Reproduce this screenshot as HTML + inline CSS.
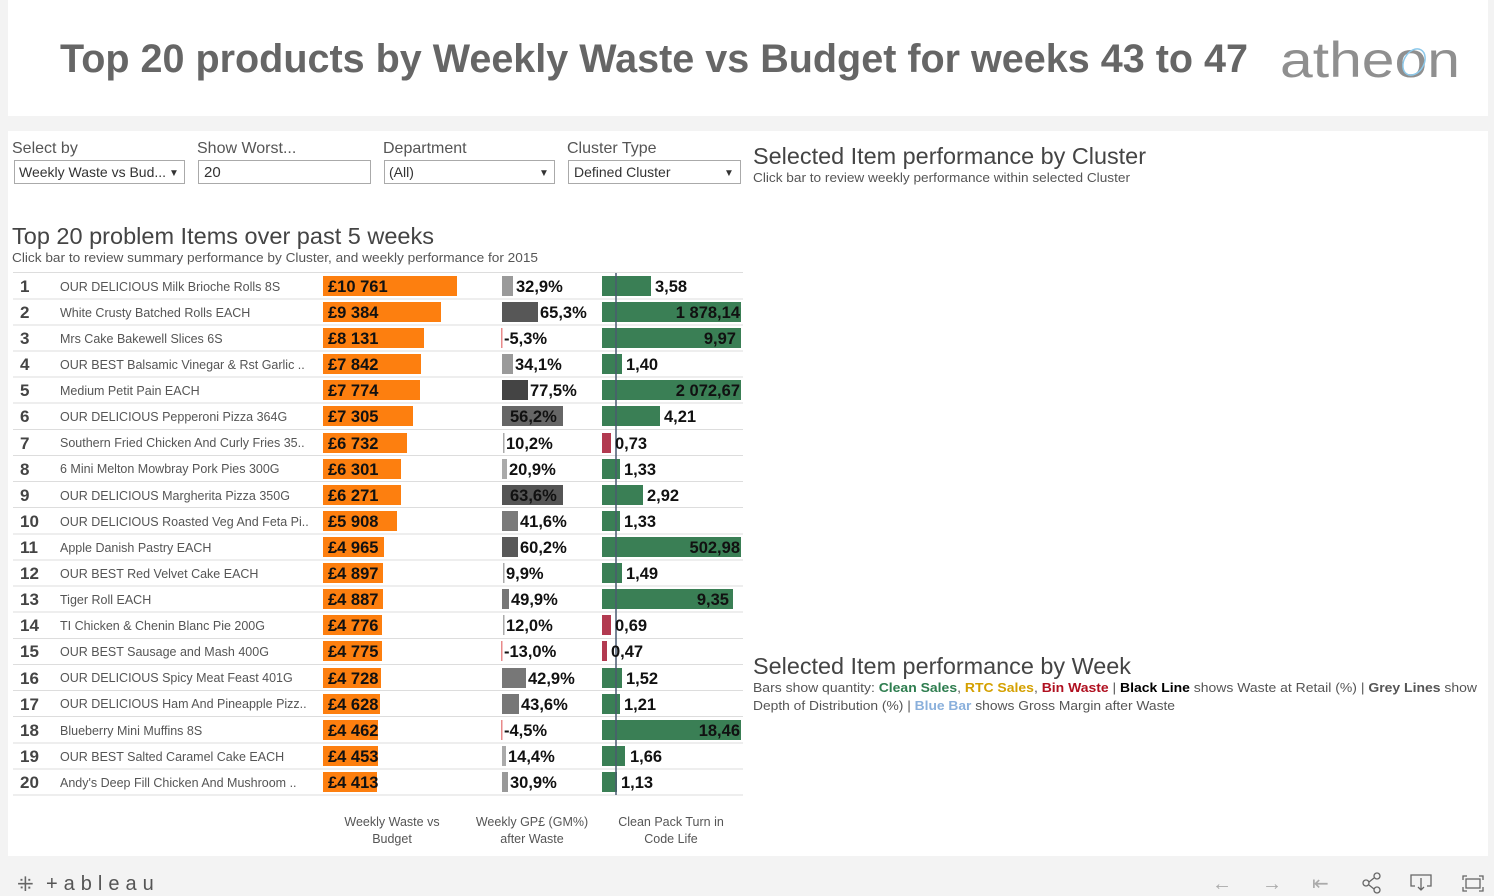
<!DOCTYPE html>
<html><head><meta charset="utf-8"><style>
html,body{margin:0;padding:0;background:#f3f3f3;}
svg{display:block;font-family:"Liberation Sans",sans-serif;}
</style></head><body>
<svg width="1494" height="896" viewBox="0 0 1494 896" xmlns="http://www.w3.org/2000/svg">
<rect x="0" y="0" width="1494" height="896" fill="#f3f3f3"/>
<rect x="8" y="0" width="1480" height="116" fill="#fff"/>
<text x="60" y="72" font-size="40" font-weight="bold" fill="#666" textLength="1188" lengthAdjust="spacingAndGlyphs">Top 20 products by Weekly Waste vs Budget for weeks 43 to 47</text>
<text x="1280" y="77" font-size="50" fill="#8f8f8f" textLength="180" lengthAdjust="spacingAndGlyphs">atheon</text>
<ellipse cx="1414" cy="62" rx="10" ry="14" fill="none" stroke="#8cc8ea" stroke-width="1.5" transform="rotate(30 1414 62)"/>
<rect x="8" y="131" width="1480" height="725" fill="#fff"/>
<g font-size="16" fill="#555">
<text x="12" y="153">Select by</text>
<text x="197" y="153">Show Worst...</text>
<text x="383" y="153">Department</text>
<text x="567" y="153">Cluster Type</text>
</g>
<g fill="#fff" stroke="#aaa">
<rect x="14.5" y="160.5" width="170" height="23"/>
<rect x="198.5" y="160.5" width="172" height="23"/>
<rect x="384.5" y="160.5" width="170" height="23"/>
<rect x="568.5" y="160.5" width="172" height="23"/>
</g>
<g font-size="14" fill="#333">
<text x="19" y="177">Weekly Waste vs Bud...</text>
<text x="204" y="177" font-size="15">20</text>
<text x="389" y="177">(All)</text>
<text x="574" y="177">Defined Cluster</text>
</g>
<g fill="#333" font-size="10">
<text x="169" y="176">▼</text><text x="539" y="176">▼</text><text x="724" y="176">▼</text>
</g>
<text x="753" y="164" font-size="23" fill="#444" textLength="393" lengthAdjust="spacingAndGlyphs">Selected Item performance by Cluster</text>
<text x="753" y="182" font-size="13" fill="#555" textLength="377" lengthAdjust="spacingAndGlyphs">Click bar to review weekly performance within selected Cluster</text>
<text x="12" y="244" font-size="23" fill="#444" textLength="422" lengthAdjust="spacingAndGlyphs">Top 20 problem Items over past 5 weeks</text>
<text x="12" y="262" font-size="13" fill="#555" textLength="526" lengthAdjust="spacingAndGlyphs">Click bar to review summary performance by Cluster, and weekly performance for 2015</text>
<text x="753" y="674" font-size="23" fill="#444" textLength="378" lengthAdjust="spacingAndGlyphs">Selected Item performance by Week</text>
<text x="753" y="692" font-size="13" fill="#555" textLength="724" lengthAdjust="spacingAndGlyphs">Bars show quantity: <tspan fill="#2e7d4f" font-weight="bold">Clean Sales</tspan>, <tspan fill="#d4a000" font-weight="bold">RTC Sales</tspan>, <tspan fill="#b01020" font-weight="bold">Bin Waste</tspan>    |    <tspan fill="#000" font-weight="bold">Black Line</tspan> shows Waste at Retail (%)    |    <tspan fill="#555" font-weight="bold">Grey Lines</tspan> show</text>
<text x="753" y="710" font-size="13" fill="#555" textLength="422" lengthAdjust="spacingAndGlyphs">Depth of Distribution (%)  |  <tspan fill="#8ab0dc" font-weight="bold">Blue Bar</tspan> shows Gross Margin after Waste</text>
<g stroke="#ddd" stroke-width="1">
<line x1="13" x2="743" y1="272.5" y2="272.5"/>
<line x1="13" x2="743" y1="299" y2="299"/><line x1="13" x2="743" y1="325" y2="325"/><line x1="13" x2="743" y1="351" y2="351"/><line x1="13" x2="743" y1="377" y2="377"/><line x1="13" x2="743" y1="403" y2="403"/><line x1="13" x2="743" y1="429.5" y2="429.5"/><line x1="13" x2="743" y1="455.5" y2="455.5"/><line x1="13" x2="743" y1="481.5" y2="481.5"/><line x1="13" x2="743" y1="507.5" y2="507.5"/><line x1="13" x2="743" y1="534" y2="534"/><line x1="13" x2="743" y1="560" y2="560"/><line x1="13" x2="743" y1="586" y2="586"/><line x1="13" x2="743" y1="612" y2="612"/><line x1="13" x2="743" y1="638.5" y2="638.5"/><line x1="13" x2="743" y1="664.5" y2="664.5"/><line x1="13" x2="743" y1="690.5" y2="690.5"/><line x1="13" x2="743" y1="716.5" y2="716.5"/><line x1="13" x2="743" y1="743" y2="743"/><line x1="13" x2="743" y1="769" y2="769"/><line x1="13" x2="743" y1="795" y2="795"/>
</g>
<g font-size="17" font-weight="bold" fill="#444">
<text x="20" y="292">1</text><text x="20" y="318">2</text><text x="20" y="344">3</text><text x="20" y="370">4</text><text x="20" y="396">5</text><text x="20" y="422">6</text><text x="20" y="449">7</text><text x="20" y="475">8</text><text x="20" y="501">9</text><text x="20" y="527">10</text><text x="20" y="553">11</text><text x="20" y="579">12</text><text x="20" y="605">13</text><text x="20" y="631">14</text><text x="20" y="657">15</text><text x="20" y="684">16</text><text x="20" y="710">17</text><text x="20" y="736">18</text><text x="20" y="762">19</text><text x="20" y="788">20</text>
</g>
<g font-size="12.5" fill="#555">
<text x="60" y="291">OUR DELICIOUS Milk Brioche Rolls 8S</text>
<text x="60" y="317">White Crusty Batched Rolls EACH</text>
<text x="60" y="343">Mrs Cake Bakewell Slices 6S</text>
<text x="60" y="369">OUR BEST Balsamic Vinegar &amp; Rst Garlic ..</text>
<text x="60" y="395">Medium Petit Pain EACH</text>
<text x="60" y="421">OUR DELICIOUS Pepperoni Pizza 364G</text>
<text x="60" y="447">Southern Fried Chicken And Curly Fries 35..</text>
<text x="60" y="473">6 Mini Melton Mowbray Pork Pies 300G</text>
<text x="60" y="500">OUR DELICIOUS Margherita Pizza 350G</text>
<text x="60" y="526">OUR DELICIOUS Roasted Veg And Feta Pi..</text>
<text x="60" y="552">Apple Danish Pastry EACH</text>
<text x="60" y="578">OUR BEST Red Velvet Cake EACH</text>
<text x="60" y="604">Tiger Roll EACH</text>
<text x="60" y="630">TI Chicken &amp; Chenin Blanc Pie 200G</text>
<text x="60" y="656">OUR BEST Sausage and Mash 400G</text>
<text x="60" y="682">OUR DELICIOUS Spicy Meat Feast 401G</text>
<text x="60" y="708">OUR DELICIOUS Ham And Pineapple Pizz..</text>
<text x="60" y="735">Blueberry Mini Muffins 8S</text>
<text x="60" y="761">OUR BEST Salted Caramel Cake EACH</text>
<text x="60" y="787">Andy's Deep Fill Chicken And Mushroom ..</text>
</g>
<g fill="#fd7f0f">
<rect x="323" y="276" width="134" height="20"/>
<rect x="323" y="302" width="118" height="20"/>
<rect x="323" y="328" width="101" height="20"/>
<rect x="323" y="354" width="98" height="20"/>
<rect x="323" y="380" width="97" height="20"/>
<rect x="323" y="406" width="90" height="20"/>
<rect x="323" y="433" width="84" height="20"/>
<rect x="323" y="459" width="78" height="20"/>
<rect x="323" y="485" width="78" height="20"/>
<rect x="323" y="511" width="74" height="20"/>
<rect x="323" y="537" width="61" height="20"/>
<rect x="323" y="563" width="60" height="20"/>
<rect x="323" y="589" width="60" height="20"/>
<rect x="323" y="615" width="59" height="20"/>
<rect x="323" y="641" width="59" height="20"/>
<rect x="323" y="668" width="58" height="20"/>
<rect x="323" y="694" width="57" height="20"/>
<rect x="323" y="720" width="55" height="20"/>
<rect x="323" y="746" width="55" height="20"/>
<rect x="323" y="772" width="54" height="20"/>
</g>
<g font-size="16.5" font-weight="bold" fill="#111">
<text x="328" y="292">£10 761</text><text x="328" y="318">£9 384</text><text x="328" y="344">£8 131</text><text x="328" y="370">£7 842</text><text x="328" y="396">£7 774</text><text x="328" y="422">£7 305</text><text x="328" y="449">£6 732</text><text x="328" y="475">£6 301</text><text x="328" y="501">£6 271</text><text x="328" y="527">£5 908</text><text x="328" y="553">£4 965</text><text x="328" y="579">£4 897</text><text x="328" y="605">£4 887</text><text x="328" y="631">£4 776</text><text x="328" y="657">£4 775</text><text x="328" y="684">£4 728</text><text x="328" y="710">£4 628</text><text x="328" y="736">£4 462</text><text x="328" y="762">£4 453</text><text x="328" y="788">£4 413</text>
</g>
<rect x="502" y="276" width="11" height="20" fill="#9a9a9a"/>
<rect x="502" y="302" width="36" height="20" fill="#575757"/>
<rect x="501" y="328" width="1.5" height="20" fill="#e88a8a"/>
<rect x="502" y="354" width="11" height="20" fill="#9a9a9a"/>
<rect x="502" y="380" width="26" height="20" fill="#444"/>
<rect x="502" y="406" width="61" height="20" fill="#666"/>
<rect x="503" y="433" width="1.5" height="20" fill="#aaa"/>
<rect x="502" y="459" width="5" height="20" fill="#aaa"/>
<rect x="502" y="485" width="61" height="20" fill="#555"/>
<rect x="502" y="511" width="16" height="20" fill="#7a7a7a"/>
<rect x="502" y="537" width="16" height="20" fill="#595959"/>
<rect x="503" y="563" width="1.5" height="20" fill="#aaa"/>
<rect x="502" y="589" width="7" height="20" fill="#777"/>
<rect x="503" y="615" width="1.5" height="20" fill="#aaa"/>
<rect x="501" y="641" width="1.5" height="20" fill="#e88a8a"/>
<rect x="502" y="668" width="24" height="20" fill="#777"/>
<rect x="502" y="694" width="17" height="20" fill="#777"/>
<rect x="501" y="720" width="1.5" height="20" fill="#e88a8a"/>
<rect x="502" y="746" width="4" height="20" fill="#aaa"/>
<rect x="502" y="772" width="6" height="20" fill="#999"/>
<g font-size="16.5" font-weight="bold" fill="#111">
<text x="516" y="292">32,9%</text><text x="540" y="318">65,3%</text><text x="504" y="344">-5,3%</text><text x="515" y="370">34,1%</text><text x="530" y="396">77,5%</text><text x="510" y="422">56,2%</text><text x="506" y="449">10,2%</text><text x="509" y="475">20,9%</text><text x="510" y="501">63,6%</text><text x="520" y="527">41,6%</text><text x="520" y="553">60,2%</text><text x="506" y="579">9,9%</text><text x="511" y="605">49,9%</text><text x="506" y="631">12,0%</text><text x="504" y="657">-13,0%</text><text x="528" y="684">42,9%</text><text x="521" y="710">43,6%</text><text x="504" y="736">-4,5%</text><text x="508" y="762">14,4%</text><text x="510" y="788">30,9%</text>
</g>
<g fill="#3a7f55">
<rect x="602" y="276" width="49" height="20"/>
<rect x="602" y="302" width="139" height="20"/>
<rect x="602" y="328" width="139" height="20"/>
<rect x="602" y="354" width="20" height="20"/>
<rect x="602" y="380" width="139" height="20"/>
<rect x="602" y="406" width="58" height="20"/>
<rect x="602" y="459" width="18" height="20"/>
<rect x="602" y="485" width="41" height="20"/>
<rect x="602" y="511" width="18" height="20"/>
<rect x="602" y="537" width="139" height="20"/>
<rect x="602" y="563" width="20" height="20"/>
<rect x="602" y="589" width="131" height="20"/>
<rect x="602" y="668" width="20" height="20"/>
<rect x="602" y="694" width="18" height="20"/>
<rect x="602" y="720" width="139" height="20"/>
<rect x="602" y="746" width="23" height="20"/>
<rect x="602" y="772" width="15" height="20"/>
</g>
<g fill="#b23a50">
<rect x="602" y="433" width="9" height="20"/>
<rect x="602" y="615" width="9" height="20"/>
<rect x="602" y="641" width="5" height="20"/>
</g>
<line x1="616" y1="273" x2="616" y2="795" stroke="#4a5a70" stroke-width="1.5"/>
<g font-size="16.5" font-weight="bold" fill="#111">
<text x="655" y="292">3,58</text>
<text x="740" y="318" text-anchor="end">1 878,14</text>
<text x="736" y="344" text-anchor="end">9,97</text>
<text x="626" y="370">1,40</text>
<text x="740" y="396" text-anchor="end">2 072,67</text>
<text x="664" y="422">4,21</text>
<text x="615" y="449">0,73</text>
<text x="624" y="475">1,33</text>
<text x="647" y="501">2,92</text>
<text x="624" y="527">1,33</text>
<text x="740" y="553" text-anchor="end">502,98</text>
<text x="626" y="579">1,49</text>
<text x="729" y="605" text-anchor="end">9,35</text>
<text x="615" y="631">0,69</text>
<text x="611" y="657">0,47</text>
<text x="626" y="684">1,52</text>
<text x="624" y="710">1,21</text>
<text x="740" y="736" text-anchor="end">18,46</text>
<text x="630" y="762">1,66</text>
<text x="621" y="788">1,13</text>
</g>
<g font-size="12.5" fill="#555" text-anchor="middle">
<text x="392" y="826">Weekly Waste vs</text><text x="392" y="843">Budget</text>
<text x="532" y="826">Weekly GP£ (GM%)</text><text x="532" y="843">after Waste</text>
<text x="671" y="826">Clean Pack Turn in</text><text x="671" y="843">Code Life</text>
</g>
<text x="17" y="891" font-size="20" fill="#666">⁜</text>
<text x="46" y="890" font-size="20" fill="#555" letter-spacing="6">+ableau</text>
<g font-size="20" fill="#aaa">
<text x="1212" y="890">←</text><text x="1262" y="890">→</text><text x="1312" y="890">⇤</text>
</g>
<g stroke="#666" fill="none" stroke-width="1.3">
<circle cx="1366" cy="883" r="3"/><circle cx="1377" cy="876" r="3"/><circle cx="1377" cy="890" r="3"/>
<line x1="1369" y1="882" x2="1374" y2="878"/><line x1="1369" y1="885" x2="1374" y2="889"/>
<path d="M1415 886 h-4 v-11 h20 v11 h-4 M1421 878 v12 M1418 887 l3 3 l3 -3"/>
<path d="M1463 880 v-4 h4 M1479 876 h4 v4 M1483 887 v4 h-4 M1467 891 h-4 v-4"/>
<rect x="1466" y="879" width="14" height="9"/>
</g>
</svg>
</body></html>
